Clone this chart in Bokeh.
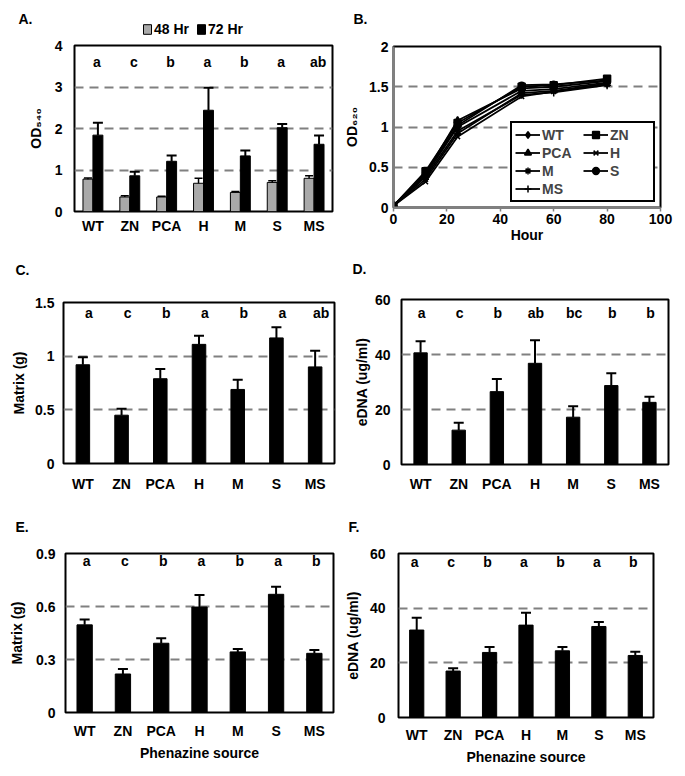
from bokeh.plotting import figure
from bokeh.layouts import column, row
from bokeh.models import (FactorRange, Range1d, Whisker, TeeHead, ColumnDataSource,
                          Legend, LegendItem, Label, FixedTicker)
from bokeh.transform import dodge
from bokeh.core.properties import value
from bokeh.embed import file_html
from bokeh.resources import INLINE

FONT = "Liberation Sans"

# ---------------- data ----------------
cats = ["WT", "ZN", "PCA", "H", "M", "S", "MS"]

# Panel A: OD540 at 48 h and 72 h
a_48 = [0.78, 0.35, 0.35, 0.68, 0.46, 0.70, 0.80]
a_48_err = [0.03, 0.03, 0.02, 0.12, 0.02, 0.04, 0.06]
a_72 = [1.84, 0.86, 1.21, 2.44, 1.34, 2.02, 1.62]
a_72_err = [0.30, 0.10, 0.14, 0.54, 0.13, 0.09, 0.21]
a_letters = ["a", "c", "b", "a", "b", "a", "ab"]

# Panel B: growth curves OD620
hours = [0, 12, 24, 48, 60, 80]
b_wt = [0.02, 0.40, 1.00, 1.45, 1.47, 1.55]
b_zn = [0.02, 0.45, 1.05, 1.50, 1.52, 1.60]
b_pca = [0.02, 0.42, 1.08, 1.48, 1.50, 1.57]
b_h = [0.02, 0.32, 0.88, 1.38, 1.44, 1.53]
b_m = [0.02, 0.35, 0.92, 1.42, 1.45, 1.54]
b_s = [0.02, 0.43, 1.02, 1.52, 1.53, 1.58]
b_ms = [0.02, 0.38, 0.95, 1.40, 1.43, 1.52]

# Panel C: Matrix (g)
c_vals = [0.92, 0.45, 0.79, 1.11, 0.69, 1.17, 0.90]
c_err = [0.07, 0.06, 0.09, 0.08, 0.09, 0.10, 0.15]
c_letters = ["a", "c", "b", "a", "b", "a", "ab"]

# Panel D: eDNA (ug/ml)
d_vals = [40.6, 12.5, 26.5, 36.8, 17.2, 28.7, 22.6]
d_err = [4.2, 2.7, 4.6, 8.4, 4.0, 4.5, 2.0]
d_letters = ["a", "c", "b", "ab", "bc", "b", "b"]

# Panel E: Matrix (g)
e_vals = [0.496, 0.218, 0.392, 0.597, 0.343, 0.669, 0.335]
e_err = [0.031, 0.028, 0.028, 0.068, 0.017, 0.043, 0.019]
e_letters = ["a", "c", "b", "a", "b", "a", "b"]

# Panel F: eDNA (ug/ml)
f_vals = [32.0, 17.0, 23.8, 33.8, 24.4, 33.3, 22.7]
f_err = [4.5, 1.0, 2.0, 4.5, 1.4, 1.6, 1.4]
f_letters = ["a", "c", "b", "a", "b", "a", "b"]

GRID = "#808080"
GRAY_BAR = "#a9a9a9"
NAN = float("nan")


def base_fig(width, height, left, right, top, bottom, x_range, y_range):
    p = figure(width=width, height=height, x_range=x_range, y_range=y_range,
               output_backend="svg", toolbar_location=None,
               min_border_left=left, min_border_right=right,
               min_border_top=top, min_border_bottom=bottom)
    p.frame_align = False
    p.outline_line_color = "black"
    p.outline_line_width = 2
    p.outline_line_alpha = 1
    p.background_fill_color = "white"
    p.border_fill_color = "white"
    p.xgrid.grid_line_color = None
    p.ygrid.grid_line_color = GRID
    p.ygrid.grid_line_width = 2
    p.ygrid.grid_line_dash = "9 6"
    for ax in (p.xaxis[0], p.yaxis[0]):
        ax.axis_line_color = None
        ax.major_tick_line_color = None
        ax.minor_tick_line_color = None
        ax.major_tick_out = 0
        ax.major_tick_in = 0
        ax.minor_tick_out = 0
        ax.minor_tick_in = 0
        ax.major_label_text_font = FONT
        ax.major_label_text_font_style = "bold"
        ax.major_label_text_font_size = "14px"
        ax.major_label_text_color = "black"
        ax.axis_label_text_font = FONT
        ax.axis_label_text_font_style = "bold"
        ax.axis_label_text_font_size = "14px"
        ax.axis_label_text_color = "black"
    return p


def strip(width, height, text, x, y):
    """A thin, axis-free figure above a panel that carries its letter."""
    s = figure(width=width, height=height, x_range=Range1d(0, 1), y_range=Range1d(0, 1),
               output_backend="svg", toolbar_location=None,
               x_axis_location=None, y_axis_location=None,
               min_border_left=0, min_border_right=0, min_border_top=0, min_border_bottom=0)
    s.frame_align = False
    s.outline_line_color = None
    s.grid.grid_line_color = None
    s.background_fill_color = "white"
    s.border_fill_color = "white"
    s.add_layout(Label(x=x, y=y, x_units="screen", y_units="screen", text=text,
                       text_font=FONT, text_font_style="bold", text_font_size="14px",
                       text_baseline="middle", text_align="left", text_color="black"))
    return s


def bar_panel(width, height, borders, vals, errs, letters, ymax, ticks, overrides,
              ylabel, letter_y, letter_dx, bar_w, ystand, ylabstand, xstand, xlabel=None):
    left, right, top, bottom = borders
    p = base_fig(width, height, left, right, top, bottom,
                 FactorRange(*cats), Range1d(0, ymax))
    src = ColumnDataSource(dict(cat=cats, val=vals,
                                up=[v + e for v, e in zip(vals, errs)],
                                let=letters))
    p.vbar(x="cat", top="val", bottom=0, width=bar_w, source=src,
           fill_color="black", line_color="black")
    p.add_layout(Whisker(base="cat", lower="val", upper="up", source=src,
                         line_color="black", line_width=2, lower_head=None,
                         upper_head=TeeHead(size=10, line_color="black", line_width=2)))
    p.text(x="cat", y=letter_y, text="let", source=src, x_offset=letter_dx,
           text_font=value(FONT), text_font_style="bold", text_font_size="14px",
           text_align="center", text_baseline="middle", text_color="black")
    p.yaxis.ticker = FixedTicker(ticks=ticks)
    p.yaxis.major_label_overrides = overrides
    p.yaxis.axis_label = ylabel
    p.yaxis.major_label_standoff = ystand
    p.yaxis.axis_label_standoff = ylabstand
    p.xaxis.major_label_standoff = xstand
    if xlabel:
        p.xaxis.axis_label = xlabel
        p.xaxis.axis_label_standoff = 3
    return p


# ---------------- Panel A ----------------
sA = strip(340, 37, "A.", 18, 19)
d48 = sA.vbar(x=[NAN], top=[NAN], width=1, fill_color=GRAY_BAR, line_color="black", line_width=1)
d72 = sA.vbar(x=[NAN], top=[NAN], width=1, fill_color="black", line_color="black", line_width=1)
legA = Legend(items=[LegendItem(label="48 Hr", renderers=[d48]),
                     LegendItem(label="72 Hr", renderers=[d72])],
              orientation="horizontal", location=(142, 0),
              border_line_color=None, background_fill_alpha=0,
              inactive_fill_alpha=0,
              label_text_font=FONT, label_text_font_style="bold",
              label_text_color="black",
              label_text_font_size="14px", label_standoff=2, label_height=14,
              glyph_width=10, glyph_height=12, spacing=7, padding=0, margin=0)
sA.add_layout(legA)

pA = base_fig(340, 221, 74, 8, 8, 47, FactorRange(*cats), Range1d(0, 4))
srcA = ColumnDataSource(dict(cat=cats, v48=a_48, v72=a_72,
                             lo48=[v - e for v, e in zip(a_48, a_48_err)],
                             up48=[v + e for v, e in zip(a_48, a_48_err)],
                             up72=[v + e for v, e in zip(a_72, a_72_err)],
                             let=a_letters))
pA.vbar(x=dodge("cat", -0.135, range=pA.x_range), top="v48", bottom=0, width=0.27,
        source=srcA, fill_color=GRAY_BAR, line_color="black", line_width=1)
pA.vbar(x=dodge("cat", 0.135, range=pA.x_range), top="v72", bottom=0, width=0.27,
        source=srcA, fill_color="black", line_color="black", line_width=1)
pA.add_layout(Whisker(base=dodge("cat", -0.135, range=pA.x_range), lower="lo48", upper="up48",
                      source=srcA, line_color="black", line_width=1.5,
                      lower_head=TeeHead(size=8, line_color="black", line_width=1.5),
                      upper_head=TeeHead(size=8, line_color="black", line_width=1.5)))
pA.add_layout(Whisker(base=dodge("cat", 0.135, range=pA.x_range), lower="v72", upper="up72",
                      source=srcA, line_color="black", line_width=2, lower_head=None,
                      upper_head=TeeHead(size=10, line_color="black", line_width=2)))
pA.text(x="cat", y=3.6, text="let", source=srcA, x_offset=4,
        text_font=value(FONT), text_font_style="bold", text_font_size="14px",
        text_align="center", text_baseline="middle", text_color="black")
pA.yaxis.ticker = FixedTicker(ticks=[0, 1, 2, 3, 4])
pA.yaxis.axis_label = "OD₅₄₀"
pA.yaxis.major_label_standoff = 12
pA.yaxis.axis_label_standoff = 8
pA.xaxis.major_label_standoff = 6

# ---------------- Panel B ----------------
sB = strip(344, 37, "B.", 13, 19)
pB = base_fig(344, 221, 53, 24, 9, 51, Range1d(0, 100), Range1d(0, 2))
pB.xaxis.ticker = FixedTicker(ticks=[0, 20, 40, 60, 80, 100])
pB.yaxis.ticker = FixedTicker(ticks=[0, 0.5, 1, 1.5, 2])
pB.yaxis.major_label_overrides = {0: "0", 1: "1", 2: "2"}
pB.xaxis.axis_line_color = GRID
pB.xaxis.axis_line_width = 2
pB.yaxis.axis_line_color = GRID
pB.yaxis.axis_line_width = 2
pB.xaxis.major_tick_line_color = GRID
pB.xaxis.major_tick_line_width = 1.5
pB.xaxis.major_tick_out = 4
pB.xaxis.major_label_standoff = 2
pB.xaxis.axis_label = "Hour"
pB.xaxis.axis_label_standoff = 0
pB.yaxis.axis_label = "OD₆₂₀"
pB.yaxis.major_label_standoff = 5
pB.yaxis.axis_label_standoff = 6
series = [("WT", b_wt, "diamond", 9), ("ZN", b_zn, "square", 7),
          ("PCA", b_pca, "triangle", 7), ("H", b_h, "x", 7),
          ("M", b_m, "asterisk", 7), ("S", b_s, "circle", 6),
          ("MS", b_ms, "cross", 8)]
itemsB = []
for name, ys, mk, sz in series:
    rl = pB.line(hours, ys, line_color="black", line_width=1.8)
    rs = pB.scatter(hours, ys, marker=mk, size=sz, fill_color="black",
                    line_color="black", line_width=1.5)
    itemsB.append(LegendItem(label=name, renderers=[rl, rs]))
legB = Legend(items=itemsB, orientation="horizontal", ncols=2, location="bottom_right",
              border_line_color="black", border_line_width=2, border_line_alpha=1,
              background_fill_color="white", background_fill_alpha=1,
              label_text_font=FONT, label_text_font_style="bold",
              label_text_font_size="14px", label_standoff=2, label_height=17,
              label_width=40, glyph_width=25, glyph_height=17,
              spacing=1, padding=3, margin=5)
pB.add_layout(legB)

# ---------------- Panels C-F ----------------
sC = strip(340, 30, "C.", 15, 19)
pC = bar_panel(340, 220, (63, 6, 14, 45), c_vals, c_err, c_letters, 1.5,
               [0, 0.5, 1, 1.5], {0: "0", 1: "1"}, "Matrix (g)", 1.40, 6, 0.35,
               9, 5, 12)
sD = strip(344, 30, "D.", 12, 20)
pD = bar_panel(344, 220, (61, 16, 11, 44), d_vals, d_err, d_letters, 60,
               [0, 20, 40, 60], {}, "eDNA (ug/ml)", 55, 1, 0.35,
               11, 2, 11)
sE = strip(340, 30, "E.", 15, 12)
pE = bar_panel(340, 237, (65, 7, 15, 63), e_vals, e_err, e_letters, 0.9,
               [0, 0.3, 0.6, 0.9], {0: "0"}, "Matrix (g)", 0.855, 2, 0.4,
               10, 8, 10, xlabel="Phenazine source")
sF = strip(344, 30, "F.", 8, 12)
pF = bar_panel(344, 237, (58, 31, 15, 58), f_vals, f_err, f_letters, 60,
               [0, 20, 40, 60], {}, "eDNA (ug/ml)", 57, -2, 0.39,
               13, 6, 9, xlabel="Phenazine source")

layout = column(row(column(sA, pA), column(sB, pB)),
                row(column(sC, pC), column(sD, pD)),
                row(column(sE, pE), column(sF, pF)))
open("out.html", "w").write(file_html(layout, INLINE))
